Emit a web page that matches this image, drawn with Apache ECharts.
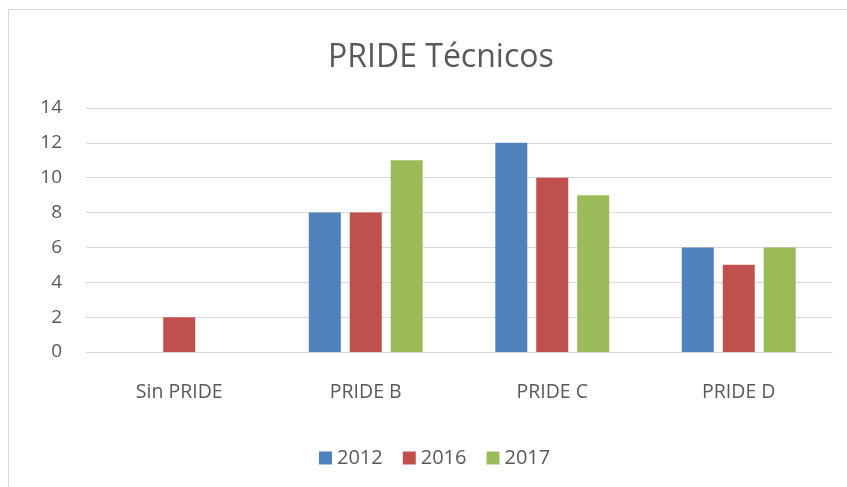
<!DOCTYPE html>
<html>
<head>
<meta charset="utf-8">
<script src="https://cdn.jsdelivr.net/npm/echarts@6/dist/echarts.min.js"></script>
<style>
  html, body { margin: 0; padding: 0; background: #fff; }
  #chart { width: 847px; height: 487px; }
</style>
</head>
<body>
<div id="chart"></div>
<script>
// categorias y valores
var categories = ['Sin PRIDE', 'PRIDE B', 'PRIDE C', 'PRIDE D'];
var years = ['2012', '2016', '2017'];
var v2012 = [0, 8, 12, 6];
var v2016 = [2, 8, 10, 5];
var v2017 = [0, 11, 9, 6];
var colors = ['#4F81BD', '#C0504D', '#9BBB59'];

var font = '"Open Sans", Calibri, sans-serif';
var chart = echarts.init(document.getElementById('chart'));

function bar(name, data, i) {
  return {
    name: name,
    type: 'bar',
    data: data,
    barWidth: 32,
    barGap: '28%',
    itemStyle: { color: colors[i] }
  };
}

chart.setOption({
  animation: false,
  textStyle: { fontFamily: font },
  graphic: [{
    type: 'rect',
    shape: { x: 8.5, y: 9.5, width: 860, height: 500 },
    style: { fill: 'none', stroke: '#d9d9d9', lineWidth: 1 },
    silent: true
  }],
  // el grafico original es mas ancho, el titulo y la leyenda quedan corridos a la derecha
  title: {
    text: 'PRIDE Técnicos',
    left: 323,
    top: 37,
    textStyle: { fontFamily: font, fontSize: 32, fontWeight: 'normal', color: '#595959' }
  },
  legend: {
    data: years,
    bottom: 14,
    left: 314,
    itemWidth: 13,
    itemHeight: 13,
    itemGap: 20,
    icon: 'rect',
    textStyle: { fontFamily: font, fontSize: 20, color: '#595959' }
  },
  grid: { left: 86, right: 15, top: 108, bottom: 135 },
  xAxis: {
    type: 'category',
    data: categories,
    axisLine: { lineStyle: { color: '#d9d9d9', width: 1 } },
    axisTick: { show: false },
    axisLabel: { margin: 30, fontSize: 19.5, color: '#595959', fontFamily: font }
  },
  yAxis: {
    type: 'value',
    min: 0,
    max: 14,
    interval: 2,
    axisLine: { show: false },
    axisTick: { show: false },
    splitLine: { lineStyle: { color: '#d9d9d9', width: 1 } },
    axisLabel: { margin: 24, fontSize: 19, color: '#595959', fontFamily: font }
  },
  series: [
    bar(years[0], v2012, 0),
    bar(years[1], v2016, 1),
    bar(years[2], v2017, 2)
  ]
});
</script>
</body>
</html>
